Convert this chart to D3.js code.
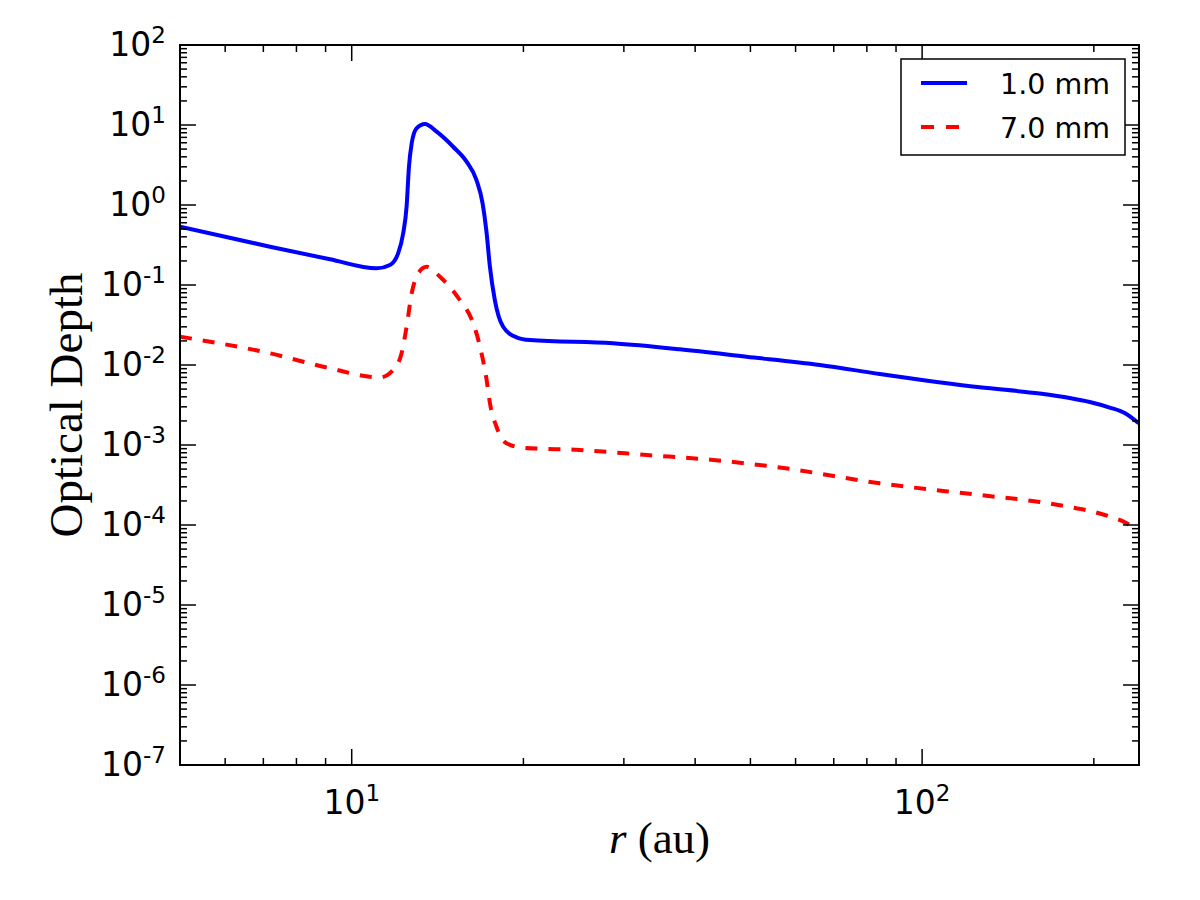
<!DOCTYPE html>
<html>
<head>
<meta charset="utf-8">
<script src="https://cdn.jsdelivr.net/npm/d3@7"></script>
<style>
  body { margin: 0; background: #fff; }
  svg { display: block; }
</style>
</head>
<body>
<svg id="chart"></svg>
<script>
// radius (au) and optical depth, one pair of arrays per grain size
const radius1mm = [5.0, 7.19, 9.16, 11.06, 11.67, 12.06, 12.31, 12.48, 12.60, 12.74, 12.99, 13.44, 14.09,
  15.06, 15.90, 16.55, 16.96, 17.24, 17.47, 17.82, 18.43, 19.45, 20.53, 28.7, 37.6, 49.2, 66.2, 84.3,
  126.2, 160.7, 181.4, 196.7, 213.2, 226.5, 239.7];
const tau1mm = [0.536, 0.301, 0.2095, 0.1617, 0.178, 0.249, 0.443, 0.953, 3.01, 5.91, 9.09, 10.3, 8.25,
  5.35, 3.48, 2.05, 1.05, 0.443, 0.169, 0.0649, 0.0301, 0.0222, 0.0205, 0.01867, 0.0157, 0.0127, 0.0100,
  0.00772, 0.00526, 0.00440, 0.00387, 0.00345, 0.00294, 0.00251, 0.00187];

const radius7mm = [5.0, 7.19, 9.16, 11.2, 11.82, 12.23, 12.48, 12.74, 13.08, 13.53, 14.28, 15.47, 16.33,
  16.89, 17.24, 17.47, 17.94, 18.68, 19.98, 25.1, 32.9, 43.0, 56.3, 84.3, 126.2, 160.7, 181.4, 196.7,
  213.2, 228.0, 239.7];
const tau7mm = [0.0226, 0.0140, 0.0091, 0.00698, 0.00866, 0.0140, 0.0301, 0.0787, 0.140, 0.169, 0.127,
  0.0649, 0.0332, 0.0140, 0.00649, 0.00335, 0.00169, 0.00105, 0.000925, 0.000866, 0.00075, 0.00065,
  0.000523, 0.000332, 0.000237, 0.000194, 0.000168, 0.000150, 0.000128, 0.000106, 0.0000841];

const seriesNames = ['1.0 mm', '7.0 mm'];
const xTickExps = [1, 2];
const yTickExps = [-7, -6, -5, -4, -3, -2, -1, 0, 1, 2];
const xDomain = [5, 240];
const yDomain = [1e-7, 1e2];

const config = {
  width: 1200,
  height: 900,
  margin: {top: 45, right: 61, bottom: 135, left: 180}
};

const innerW = config.width - config.margin.left - config.margin.right;
const innerH = config.height - config.margin.top - config.margin.bottom;

const svg = d3.select('#chart')
    .attr('width', config.width)
    .attr('height', config.height);

const chart = svg.append('g')
    .attr('transform', `translate(${config.margin.left},${config.margin.top})`);

const xScale = d3.scaleLog().domain(xDomain).range([0, innerW]);
const yScale = d3.scaleLog().domain(yDomain).range([innerH, 0]);

// tick positions (majors + minors 2..9 in each decade)
const xMajor = xTickExps.map(e => Math.pow(10, e));
const xMinor = [];
for (let e = 0; e <= 2; e++) {
  for (let k = 2; k <= 9; k++) {
    const v = k * Math.pow(10, e);
    if (v >= xDomain[0] && v <= xDomain[1]) xMinor.push(v);
  }
}
const yMajor = yTickExps.map(e => Math.pow(10, e));
const yMinor = [];
for (let e = -7; e < 2; e++) {
  for (let k = 2; k <= 9; k++) yMinor.push(k * Math.pow(10, e));
}

// clip for the curves
svg.append('defs').append('clipPath')
    .attr('id', 'plot-clip')
  .append('rect')
    .attr('width', innerW)
    .attr('height', innerH);

const marks = chart.append('g').attr('clip-path', 'url(#plot-clip)');

const line = d3.line()
    .x(d => xScale(d[0]))
    .y(d => yScale(d[1]))
    .curve(d3.curveMonotoneX);

marks.append('path')
    .datum(d3.zip(radius1mm, tau1mm))
    .attr('fill', 'none')
    .attr('stroke', '#0000ff')
    .attr('stroke-width', 4)
    .attr('d', line);

marks.append('path')
    .datum(d3.zip(radius7mm, tau7mm))
    .attr('fill', 'none')
    .attr('stroke', '#ff0000')
    .attr('stroke-width', 4)
    .attr('stroke-dasharray', '12,11')
    .attr('d', line);

// ticks pointing inward on all four sides
const ticks = chart.append('g')
    .attr('stroke', '#000')
    .attr('stroke-width', 1.5);

const majorLen = 16, minorLen = 7;

[[xMajor, majorLen], [xMinor, minorLen]].forEach(([vals, len]) => {
  vals.forEach(v => {
    const x = xScale(v);
    ticks.append('line').attr('x1', x).attr('x2', x).attr('y1', innerH).attr('y2', innerH - len);
    ticks.append('line').attr('x1', x).attr('x2', x).attr('y1', 0).attr('y2', len);
  });
});

[[yMajor, majorLen], [yMinor, minorLen]].forEach(([vals, len]) => {
  vals.forEach(v => {
    const y = yScale(v);
    ticks.append('line').attr('x1', 0).attr('x2', len).attr('y1', y).attr('y2', y);
    ticks.append('line').attr('x1', innerW).attr('x2', innerW - len).attr('y1', y).attr('y2', y);
  });
});

chart.append('rect')
    .attr('width', innerW)
    .attr('height', innerH)
    .attr('fill', 'none')
    .attr('stroke', '#000')
    .attr('stroke-width', 2);

// tick labels written as 10 with a superscript exponent
function powerLabel(g, exp) {
  g.append('tspan').text('10');
  g.append('tspan')
      .attr('dy', -13)
      .attr('font-size', 23)
      .text(exp);
}

const tickFont = "'DejaVu Sans', sans-serif";

yTickExps.forEach(e => {
  const t = chart.append('text')
      .attr('x', -14)
      .attr('y', yScale(Math.pow(10, e)) + 11)
      .attr('text-anchor', 'end')
      .attr('font-family', tickFont)
      .attr('font-size', 33)
      .attr('fill', '#000');
  powerLabel(t, e);
});

xTickExps.forEach(e => {
  const t = chart.append('text')
      .attr('x', xScale(Math.pow(10, e)))
      .attr('y', innerH + 49)
      .attr('text-anchor', 'middle')
      .attr('font-family', tickFont)
      .attr('font-size', 33)
      .attr('fill', '#000');
  powerLabel(t, e);
});

// axis titles
const titleFont = "'Liberation Serif', 'Times New Roman', serif";

const xTitle = svg.append('text')
    .attr('x', config.margin.left + innerW / 2)
    .attr('y', 853)
    .attr('text-anchor', 'middle')
    .attr('font-family', titleFont)
    .attr('font-size', 45)
    .attr('fill', '#000');
xTitle.append('tspan').attr('font-style', 'italic').text('r');
xTitle.append('tspan').text(' (au)');

svg.append('text')
    .attr('transform', `translate(82,${config.margin.top + innerH / 2}) rotate(-90)`)
    .attr('text-anchor', 'middle')
    .attr('font-family', titleFont)
    .attr('font-size', 47)
    .attr('fill', '#000')
    .text('Optical Depth');

// legend
const legend = svg.append('g');

legend.append('rect')
    .attr('x', 901)
    .attr('y', 59)
    .attr('width', 224)
    .attr('height', 96)
    .attr('fill', '#fff')
    .attr('stroke', '#000')
    .attr('stroke-width', 1.5);

const legendStyles = [
  {color: '#0000ff', dash: null, y: 83},
  {color: '#ff0000', dash: '13,12', y: 127}
];

seriesNames.forEach((name, i) => {
  const s = legendStyles[i];
  legend.append('line')
      .attr('x1', 921)
      .attr('x2', s.dash ? 960 : 967)
      .attr('y1', s.y)
      .attr('y2', s.y)
      .attr('stroke', s.color)
      .attr('stroke-width', 4)
      .attr('stroke-dasharray', s.dash);
  legend.append('text')
      .attr('x', 1000)
      .attr('y', s.y + 11)
      .attr('font-family', tickFont)
      .attr('font-size', 28.5)
      .attr('fill', '#000')
      .text(name);
});
</script>
</body>
</html>
